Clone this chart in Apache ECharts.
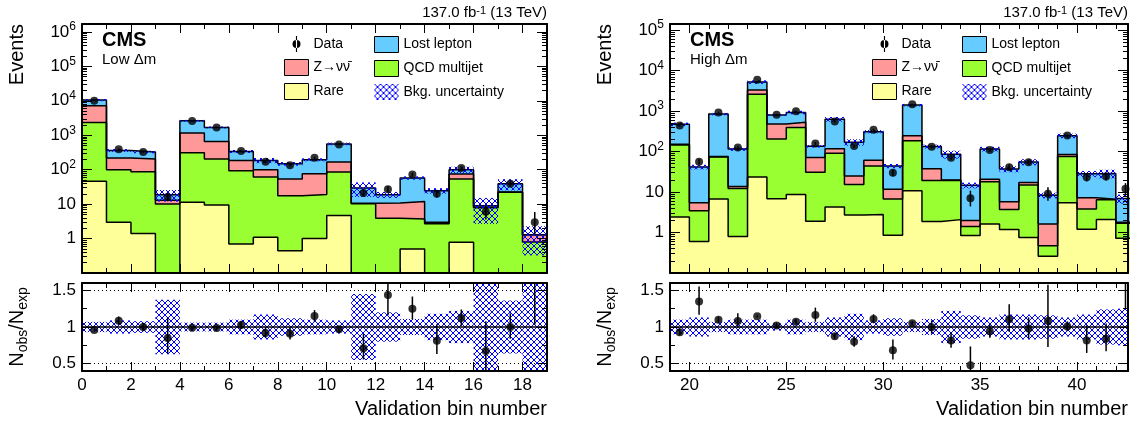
<!DOCTYPE html>
<html>
<head>
<meta charset="utf-8">
<script src="https://cdn.jsdelivr.net/npm/echarts@6/dist/echarts.min.js"></script>
<style>
  html, body { margin: 0; padding: 0; background: #fff; }
  #main { width: 1141px; height: 423px; }
</style>
</head>
<body>
<div id="main"></div>
<script>
// ---------- data ----------
// low dm validation bins 0..18
var lowBins  = [0, 1, 2, 3, 4, 5, 6, 7, 8, 9, 10, 11, 12, 13, 14, 15, 16, 17, 18];
var lowRare  = [46, 3.0, 1.4, 0, 11.3, 9.5, 0.7, 1.1, 0.44, 1.0, 4.7, 0, 0, 0.5, 0, 0.78, 0, 0, 0];
var lowQCD   = [2300, 97, 85, 10, 299, 195, 93, 60, 17.2, 18, 81, 10.3, 3.9, 3.2, 2.7, 53, 7.8, 22, 0.8];
var lowZnn   = [4850, 118, 118, 2.9, 850, 456, 92, 39, 36, 57, 81, 0.3, 6.9, 8.3, 0.3, 21, 0.3, 0.5, 0.48];
var lowLL    = [3300, 145, 122, 5.9, 1470, 1030, 154, 86, 95, 119, 393, 18.9, 8.0, 45.6, 21.6, 25, 0.8, 16.5, 0.02];
var lowData  = [10080, 394, 326, 16, 2600, 1670, 349, 171, 135, 224, 543, 21, 27, 72, 20, 112, 6, 39, 3];
var lowUnc   = [0.07, 0.09, 0.08, 0.37, 0.06, 0.06, 0.10, 0.17, 0.12, 0.10, 0.09, 0.45, 0.20, 0.11, 0.18, 0.22, 0.70, 0.36, 0.75];

// high dm validation bins 19..42
var highBins = [19, 20, 21, 22, 23, 24, 25, 26, 27, 28, 29, 30, 31, 32, 33, 34, 35, 36, 37, 38, 39, 40, 41, 42];
var highRare = [2.4, 0.6, 6.7, 0.8, 23.6, 6.8, 8.7, 1.9, 4.25, 2.7, 2.8, 0.85, 10.7, 1.86, 2.08, 0.84, 1.63, 1.18, 0.75, 0.26, 5.4, 1.2, 2.1, 0.72];
var highQCD  = [143, 2.86, 67, 11.4, 2576, 198, 386, 29, 87, 12.6, 41, 5.85, 175, 17.5, 17.1, 0.56, 16.2, 2.5, 14.25, 0.21, 69.6, 2.6, 4.3, 0.98];
var highZnn  = [5, 1.94, 2, 1.4, 700, 273, 130, 40, 25, 9.7, 17, 5, 60, 18.3, 0.6, 0.57, 2.8, 2.05, 2.1, 1.15, 9, 3.4, 0.2, 0.1];
var highLL   = [320, 36.2, 764, 102, 1900, 317, 399, 64, 514, 145, 249, 32.3, 1154, 95, 66, 12.7, 95, 31.3, 38, 6.7, 162, 21, 22, 5.1];
var highData = [437, 56, 924, 125, 5960, 811, 989, 157, 551, 136, 344, 30, 1470, 132, 70, 7, 109, 41, 54, 9, 248, 23, 24, 12];
var highUnc  = [0.10, 0.13, 0.07, 0.10, 0.10, 0.05, 0.10, 0.07, 0.13, 0.18, 0.09, 0.12, 0.07, 0.11, 0.22, 0.16, 0.13, 0.17, 0.17, 0.16, 0.13, 0.17, 0.24, 0.25];

// tick labels
var lowXTicks   = [0, 2, 4, 6, 8, 10, 12, 14, 16, 18];
var highXTicks  = [20, 25, 30, 35, 40];
var ratioTicks  = [0.5, 1, 1.5];
var lowYTicks   = [1, 10, 100, 1000, 10000, 100000, 1000000];
var highYTicks  = [1, 10, 100, 1000, 10000, 100000];

// ---------- style ----------
var FONT = 'Liberation Sans';
var C_LL = '#66ccff', C_Z = '#ff9999', C_QCD = '#99ff33', C_RARE = '#ffff99';
var ZNAME = 'Z\u2192\u03bd\u03bd\u0304';

function makeHatch() {
  var c = document.createElement('canvas');
  c.width = 6; c.height = 6;
  var g = c.getContext('2d');
  g.strokeStyle = '#0000ff';
  g.lineWidth = 1;
  g.beginPath();
  g.moveTo(-1, -1); g.lineTo(7, 7);
  g.moveTo(7, -1); g.lineTo(-1, 7);
  g.stroke();
  return c;
}
var HATCH = { image: makeHatch(), repeat: 'repeat' };

// stacked sums, bottom -> top
function cumulate(parts) {
  var out = [], run = parts[0].map(function () { return 0; });
  parts.forEach(function (p) {
    run = run.map(function (r, i) { return r + p[i]; });
    out.push(run.slice());
  });
  return out;
}

function stepData(bins, vals) {
  var d = bins.map(function (b, i) { return [b, vals[i] > 0 ? vals[i] : 1e-4]; });
  d.push([bins[bins.length - 1] + 1, d[d.length - 1][1]]);
  return d;
}

// approximate poisson interval
function errLo(n) { return n > 0 ? Math.sqrt(n - 0.25) : 0; }
function errHi(n) { return 1 + Math.sqrt(n + 0.75); }

function renderBand(params, api) {
  var x0 = api.value(0);
  var a = api.coord([x0, api.value(2)]);
  var b = api.coord([x0 + 1, api.value(1)]);
  var cs = params.coordSys;
  var r = echarts.graphic.clipRectByRect(
    { x: a[0], y: a[1], width: b[0] - a[0], height: b[1] - a[1] },
    { x: cs.x, y: cs.y, width: cs.width, height: cs.height });
  if (!r) return;
  return { type: 'rect', shape: r, style: { fill: HATCH, stroke: null } };
}

function renderErr(params, api) {
  var x = api.value(0);
  var a = api.coord([x, api.value(2)]);
  var b = api.coord([x, api.value(1)]);
  var cs = params.coordSys;
  var y1 = Math.max(a[1], cs.y), y2 = Math.min(b[1], cs.y + cs.height);
  if (!(y2 > y1) || a[0] > cs.x + cs.width) return;
  return { type: 'line', shape: { x1: a[0], y1: y1, x2: a[0], y2: y2 }, style: { stroke: '#000', lineWidth: 1.5 } };
}

// ---------- axes ----------
var xAxes = [], yAxes = [];
function base(grid, type, min, max, pos) {
  return {
    type: type, gridIndex: grid, min: min, max: max, position: pos, z: 10,
    splitLine: { show: false },
    axisLine: { show: false, onZero: false },
    axisTick: { show: false },
    axisLabel: { show: false }
  };
}
function tickStyle(len, values) {
  var t = { show: true, inside: true, length: len, lineStyle: { color: '#000', width: 1 } };
  if (values) t.customValues = values;
  return t;
}
var labelStyle = { show: true, color: '#000', fontFamily: FONT, fontSize: 17, margin: 6 };

function addXAxes(grid, min, max, majors, withLabels) {
  var main = -1;
  ['bottom', 'top'].forEach(function (pos) {
    var a = base(grid, 'value', min, max, pos);
    a.axisLine = { show: true, onZero: false, lineStyle: { color: '#000', width: 2 } };
    a.axisTick = tickStyle(9, majors);
    if (pos === 'bottom' && withLabels) {
      a.axisLabel = Object.assign({ customValues: majors }, labelStyle);
    }
    xAxes.push(a);
    if (pos === 'bottom') main = xAxes.length - 1;
    var m = base(grid, 'value', min, max, pos);
    m.interval = 1;
    m.axisTick = tickStyle(5);
    xAxes.push(m);
  });
  return main;
}

function logMinor(maxVal) {
  var v = [];
  for (var e = -1; e <= 6; e++) {
    for (var k = 2; k <= 9; k++) {
      var val = k * Math.pow(10, e);
      if (val < maxVal) v.push(val);
    }
  }
  return v;
}
function logLabel(v) {
  var e = Math.round(Math.log10(v));
  if (e === 0) return '1';
  if (e === 1) return '10';
  return '10{sup|' + e + '}';
}

function addLogY(grid, max, majors) {
  var main = -1;
  ['left', 'right'].forEach(function (pos) {
    var a = base(grid, 'log', 0.1, max, pos);
    a.logBase = 10;
    a.axisLine = { show: true, onZero: false, lineStyle: { color: '#000', width: 2 } };
    a.axisTick = tickStyle(10, majors);
    if (pos === 'left') {
      a.axisLabel = Object.assign({
        customValues: majors, formatter: logLabel, lineHeight: 22,
        rich: { sup: { fontSize: 12, fontFamily: FONT, color: '#000', verticalAlign: 'top', lineHeight: 12 } }
      }, labelStyle);
    }
    yAxes.push(a);
    if (pos === 'left') main = yAxes.length - 1;
    var m = base(grid, 'log', 0.1, max, pos);
    m.logBase = 10;
    m.axisTick = tickStyle(5, logMinor(max));
    yAxes.push(m);
  });
  return main;
}

function addRatioY(grid) {
  var main = -1;
  ['left', 'right'].forEach(function (pos) {
    var a = base(grid, 'value', 0.4, 1.6, pos);
    a.axisLine = { show: true, onZero: false, lineStyle: { color: '#000', width: 2 } };
    a.axisTick = tickStyle(9, ratioTicks);
    if (pos === 'left') a.axisLabel = Object.assign({ customValues: ratioTicks }, labelStyle);
    yAxes.push(a);
    if (pos === 'left') main = yAxes.length - 1;
    var m = base(grid, 'value', 0.4, 1.6, pos);
    m.axisTick = tickStyle(5, [0.75, 1.25]);
    yAxes.push(m);
  });
  return main;
}

var LOW_MAX_X = 19, HIGH_MAX_X = 42.63;
var xLT = addXAxes(0, 0, LOW_MAX_X, lowXTicks, false);
var xLR = addXAxes(1, 0, LOW_MAX_X, lowXTicks, true);
var xRT = addXAxes(2, 19, HIGH_MAX_X, highXTicks, false);
var xRR = addXAxes(3, 19, HIGH_MAX_X, highXTicks, true);
var yLT = addLogY(0, 1.7e6, lowYTicks);
var yLR = addRatioY(1);
var yRT = addLogY(2, 1.41e5, highYTicks);
var yRR = addRatioY(3);

// ---------- series ----------
function panelSeries(p) {
  var cum = cumulate([p.rare, p.qcd, p.znn, p.ll]);
  var total = cum[3];
  var layers = [[C_LL, 'Lost lepton', cum[3]], [C_Z, ZNAME, cum[2]], [C_QCD, 'QCD multijet', cum[1]], [C_RARE, 'Rare', cum[0]]];
  var s = layers.map(function (l) {
    return {
      type: 'line', name: l[1], xAxisIndex: p.xTop, yAxisIndex: p.yTop,
      step: 'end', symbol: 'none', data: stepData(p.bins, l[2]),
      lineStyle: { color: '#000', width: 1.5 }, itemStyle: { color: l[0] },
      areaStyle: { color: l[0], opacity: 1, origin: 'start' }, z: 2
    };
  });
  s.push({
    type: 'custom', name: 'Bkg. uncertainty', xAxisIndex: p.xTop, yAxisIndex: p.yTop,
    renderItem: renderBand, encode: { x: 0, y: [1, 2] }, z: 3,
    itemStyle: { color: '#0000ff' },
    data: p.bins.map(function (b, i) { return [b, total[i] * (1 - p.unc[i]), total[i] * (1 + p.unc[i])]; })
  });
  s.push({
    type: 'custom', name: 'Data', xAxisIndex: p.xTop, yAxisIndex: p.yTop,
    renderItem: renderErr, encode: { x: 0, y: [1, 2] }, z: 4,
    data: p.bins.map(function (b, i) { var n = p.data[i]; return [b + 0.5, n - errLo(n), n + errHi(n)]; })
  });
  s.push({
    type: 'scatter', name: 'Data', xAxisIndex: p.xTop, yAxisIndex: p.yTop,
    symbolSize: 8, itemStyle: { color: '#000' }, z: 5,
    data: p.bins.map(function (b, i) { return [b + 0.5, p.data[i]]; })
  });
  // ratio panel
  s.push({
    type: 'custom', name: 'ratio band', xAxisIndex: p.xRat, yAxisIndex: p.yRat,
    renderItem: renderBand, encode: { x: 0, y: [1, 2] }, z: 3,
    data: p.bins.map(function (b, i) { return [b, 1 - p.unc[i], 1 + p.unc[i]]; })
  });
  s.push({
    type: 'custom', name: 'ratio err', xAxisIndex: p.xRat, yAxisIndex: p.yRat,
    renderItem: renderErr, encode: { x: 0, y: [1, 2] }, z: 6,
    data: p.bins.map(function (b, i) {
      var n = p.data[i];
      return [b + 0.5, (n - errLo(n)) / total[i], (n + errHi(n)) / total[i]];
    })
  });
  s.push({
    type: 'scatter', name: 'ratio', xAxisIndex: p.xRat, yAxisIndex: p.yRat,
    symbolSize: 8, itemStyle: { color: '#000' }, z: 6, clip: true,
    data: p.bins.map(function (b, i) { return [b + 0.5, p.data[i] / total[i]]; }),
    markLine: {
      silent: true, symbol: 'none', label: { show: false }, animation: false,
      data: [
        { yAxis: 1, lineStyle: { color: '#000', type: 'solid', width: 1.5 } },
        { yAxis: 1.5, lineStyle: { color: '#000', type: [1, 3], width: 1 } },
        { yAxis: 0.5, lineStyle: { color: '#000', type: [1, 3], width: 1 } }
      ]
    }
  });
  return s;
}

var series = panelSeries({
  bins: lowBins, rare: lowRare, qcd: lowQCD, znn: lowZnn, ll: lowLL, data: lowData, unc: lowUnc,
  xTop: xLT, yTop: yLT, xRat: xLR, yRat: yLR
}).concat(panelSeries({
  bins: highBins, rare: highRare, qcd: highQCD, znn: highZnn, ll: highLL, data: highData, unc: highUnc,
  xTop: xRT, yTop: yRT, xRat: xRR, yRat: yRR
}));

// ---------- legend ----------
var DATA_ICON = 'path://M3,0h1v14h-1z M0,7a3.5,3.5 0 1,0 7,0a3.5,3.5 0 1,0 -7,0z';
function boxItem(name, color) {
  return { name: name, icon: 'rect', itemStyle: { color: color, borderColor: '#000', borderWidth: 1 } };
}
function legendCol(left, items) {
  return {
    orient: 'vertical', left: left, top: 36, padding: 0,
    itemWidth: 24, itemHeight: 16, itemGap: 7, selectedMode: false,
    textStyle: { fontFamily: FONT, fontSize: 14, color: '#000' },
    data: items
  };
}
function legendPair(left) {
  return [
    legendCol(left, [
      { name: 'Data', icon: DATA_ICON, itemStyle: { color: '#000', borderWidth: 0 } },
      boxItem(ZNAME, C_Z), boxItem('Rare', C_RARE)
    ]),
    legendCol(left + 90, [
      boxItem('Lost lepton', C_LL), boxItem('QCD multijet', C_QCD),
      { name: 'Bkg. uncertainty', icon: 'rect', itemStyle: { color: HATCH, borderWidth: 0 } }
    ])
  ];
}

// ---------- text ----------
function txt(x, y, text, size, opts) {
  opts = opts || {};
  return {
    type: 'text', x: x, y: y, rotation: opts.rot || 0, silent: true,
    style: {
      text: text, fill: '#000', fontFamily: FONT, fontSize: size, fontWeight: opts.bold ? 'bold' : 'normal',
      align: opts.align || 'left', verticalAlign: 'middle',
      rich: {
        sup: { fontSize: Math.round(size * 0.7), fontFamily: FONT, fill: '#000', verticalAlign: 'top', lineHeight: Math.round(size * 0.7) },
        sub: { fontSize: Math.round(size * 0.7), fontFamily: FONT, fill: '#000', verticalAlign: 'bottom', lineHeight: Math.round(size * 0.7) },
        b: { fontSize: size, fontFamily: FONT, fill: '#000', lineHeight: Math.round(size * 1.35) }
      }
    }
  };
}
var graphics = [];
[[82, 547, 'Low \u0394m'], [670, 1128, 'High \u0394m']].forEach(function (g) {
  var l = g[0], r = g[1];
  graphics.push(txt(r, 13, '137.0 fb{sup|-1} (13 TeV)', 15, { align: 'right' }));
  graphics.push(txt(l + 20, 40, 'CMS', 20, { bold: true }));
  graphics.push(txt(l + 20, 60, g[2], 15));
  graphics.push(txt(l - 65, 24, 'Events', 20, { align: 'right', rot: Math.PI / 2 }));
  graphics.push(txt(l - 65, 327, '{b|N}{sub|obs}{b|/N}{sub|exp}', 20, { align: 'center', rot: Math.PI / 2 }));
  graphics.push(txt(r, 409, 'Validation bin number', 20, { align: 'right' }));
});

var chart = echarts.init(document.getElementById('main'));
chart.setOption({
  animation: false,
  backgroundColor: '#fff',
  grid: [
    { left: 82, top: 24, width: 465, height: 249 },
    { left: 82, top: 283, width: 465, height: 88 },
    { left: 670, top: 24, width: 458, height: 249 },
    { left: 670, top: 283, width: 458, height: 88 }
  ],
  xAxis: xAxes,
  yAxis: yAxes,
  legend: legendPair(284).concat(legendPair(872)),
  graphic: graphics,
  series: series
});
</script>
</body>
</html>
